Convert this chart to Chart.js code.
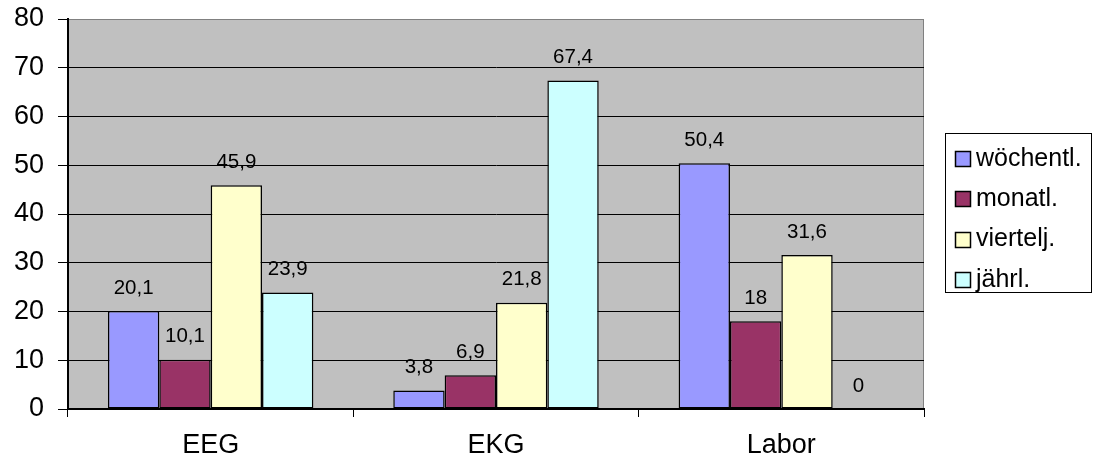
<!DOCTYPE html>
<html>
<head>
<meta charset="utf-8">
<title>Untersuchungen</title>
<script src="https://cdn.jsdelivr.net/npm/chart.js@4/dist/chart.umd.min.js"></script>
<style>
  html, body { margin: 0; padding: 0; background: #ffffff; }
  #wrap { width: 1093px; height: 465px; position: relative; }
</style>
</head>
<body>
<div id="wrap"><canvas id="chart"></canvas></div>
<script>
// Untersuchungen und ihre Häufigkeit (Prozent)
const categories = ['EEG', 'EKG', 'Labor'];
const seriesNames = ['wöchentl.', 'monatl.', 'viertelj.', 'jährl.'];
const woechentl = [20.1, 3.8, 50.4];
const monatl = [10.1, 6.9, 18];
const viertelj = [45.9, 21.8, 31.6];
const jaehrl = [23.9, 67.4, 0];
const yTicks = [0, 10, 20, 30, 40, 50, 60, 70, 80];

const seriesValues = [woechentl, monatl, viertelj, jaehrl];
const seriesColors = ['#9999FF', '#993366', '#FFFFCC', '#CCFFFF'];
const FONT = '"Liberation Sans", Arial, sans-serif';

const fmt = v => String(v).replace('.', ',');

// grey plot background with a light frame
const plotBackground = {
  id: 'plotBackground',
  beforeDraw(chart) {
    const { ctx, chartArea: a } = chart;
    ctx.save();
    ctx.fillStyle = '#C0C0C0';
    ctx.fillRect(a.left, a.top, a.right - a.left, a.bottom - a.top);
    ctx.strokeStyle = '#808080';
    ctx.lineWidth = 1;
    ctx.strokeRect(a.left + 0.5, a.top + 0.5, a.right - a.left - 1, a.bottom - a.top);
    ctx.restore();
  }
};

// value labels above each bar
const valueLabels = {
  id: 'valueLabels',
  afterDatasetsDraw(chart) {
    const { ctx } = chart;
    ctx.save();
    ctx.font = '20.5px ' + FONT;
    ctx.fillStyle = '#000000';
    ctx.textAlign = 'center';
    ctx.textBaseline = 'middle';
    chart.data.datasets.forEach((ds, di) => {
      chart.getDatasetMeta(di).data.forEach((bar, i) => {
        ctx.fillText(fmt(ds.data[i]), bar.x, bar.y - 23);
      });
    });
    ctx.restore();
  }
};

// framed legend to the right of the plot
const boxLegend = {
  id: 'boxLegend',
  afterDraw(chart) {
    const { ctx, chartArea: a } = chart;
    const left = a.right + 21, top = 133, w = 147, h = 160;
    ctx.save();
    ctx.fillStyle = '#ffffff';
    ctx.fillRect(left, top, w, h);
    ctx.strokeStyle = '#000000';
    ctx.lineWidth = 1;
    ctx.strokeRect(left + 0.5, top + 0.5, w - 1, h - 1);
    ctx.font = '25px ' + FONT;
    ctx.textBaseline = 'middle';
    ctx.textAlign = 'left';
    chart.data.datasets.forEach((ds, i) => {
      const cy = top + 25 + i * 40.3;
      ctx.fillStyle = ds.backgroundColor;
      ctx.fillRect(left + 10.5, Math.round(cy - 7) + 0.5, 15, 15);
      ctx.strokeStyle = '#000000';
      ctx.lineWidth = 1.5;
      ctx.strokeRect(left + 10.5, Math.round(cy - 7) + 0.5, 15, 15);
      ctx.fillStyle = '#000000';
      ctx.fillText(ds.label, left + 31, cy + 1);
    });
    ctx.restore();
  }
};

const datasets = seriesNames.map((name, i) => ({
  label: name,
  data: seriesValues[i],
  backgroundColor: seriesColors[i],
  borderColor: '#000000',
  borderWidth: 1.5,
  borderSkipped: false,
  categoryPercentage: 0.72,
  barPercentage: 1.0
}));

new Chart(document.getElementById('chart'), {
  type: 'bar',
  data: { labels: categories, datasets },
  options: {
    responsive: true,
    maintainAspectRatio: false,
    animation: false,
    layout: { padding: { top: 19, right: 169, left: 0, bottom: 0 } },
    plugins: {
      legend: { display: false },
      tooltip: { enabled: false }
    },
    scales: {
      x: {
        offset: true,
        grid: {
          offset: true,
          drawOnChartArea: false,
          drawTicks: true,
          tickLength: 8,
          color: '#000000',
          lineWidth: 1
        },
        border: { display: true, color: '#000000', width: 2 },
        ticks: { color: '#000000', font: { family: FONT, size: 27 }, padding: 12 },
        afterFit(scale) { scale.height = 56; scale.paddingLeft = 0; scale.paddingRight = 0; }
      },
      y: {
        min: 0,
        max: 80,
        afterBuildTicks(scale) { scale.ticks = yTicks.map(v => ({ value: v })); },
        grid: {
          color: ctx => (ctx.tick && ctx.tick.value === 80 ? '#808080' : '#000000'),
          tickColor: '#000000',
          lineWidth: 1,
          tickLength: 10,
          drawTicks: true
        },
        border: { display: true, color: '#000000', width: 2 },
        ticks: { color: '#000000', font: { family: FONT, size: 27 }, padding: 14 },
        afterFit(scale) { scale.width = 68; scale.paddingTop = 0; scale.paddingBottom = 0; }
      }
    }
  },
  plugins: [plotBackground, valueLabels, boxLegend]
});
</script>
</body>
</html>
